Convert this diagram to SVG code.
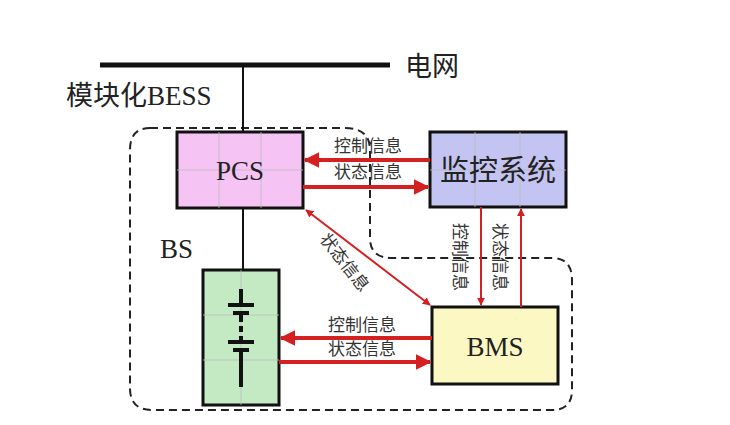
<svg xmlns="http://www.w3.org/2000/svg" width="730" height="425" viewBox="0 0 730 425">
<defs>
<marker id="ah" viewBox="0 0 10 10" refX="9" refY="5" markerWidth="4" markerHeight="4" orient="auto-start-reverse"><path d="M0,0L10,5L0,10z" fill="#d42020"/></marker>
</defs>
<style>
.box{stroke:#111;stroke-width:3}
.grid{stroke:#bbb;stroke-width:0.8;fill:none}
.ar{stroke:#d42020;stroke-width:4;fill:none;marker-end:url(#ah)}
.ar2{stroke:#d42020;stroke-width:2;fill:none;marker-end:url(#ah)}
.lbl{font-family:"Noto Sans CJK SC",sans-serif;font-size:17px;fill:#333}
.big{font-family:"Liberation Serif","Noto Sans CJK SC",serif;font-size:27px;fill:#222}
</style>
<rect width="730" height="425" fill="#fff"/>
<path d="M150,128 H345 Q370,128 370,150 V238 Q370,258 392,258 H552 Q572,258 572,280 V390 Q572,410 552,410 H152 Q130,410 130,388 V150 Q130,128 150,128 Z" fill="none" stroke="#222" stroke-width="2" stroke-dasharray="8,5"/>
<g id="bus"><line x1="100" y1="65" x2="390" y2="65" stroke="#111" stroke-width="5"/>
<line x1="243" y1="65" x2="243" y2="132" stroke="#111" stroke-width="2"/>
<line x1="243" y1="208" x2="243" y2="270" stroke="#111" stroke-width="2"/></g>
<text class="big" x="405" y="76">电网</text>
<text class="big" x="66" y="105">模块化BESS</text>
<text class="big" x="160" y="258">BS</text>
<g id="pcs"><rect class="box" x="177" y="132" width="126" height="76" fill="#f5c4f5"/>
<path class="grid" d="M219,132V208M261,132V208M177,170H303"/>
<text class="big" x="240" y="180" text-anchor="middle">PCS</text></g>
<g id="mon"><rect class="box" x="430" y="132" width="136" height="75" fill="#c4c4f2"/>
<path class="grid" d="M475,132V207M520,132V207M430,170H566"/>
<text x="498" y="181" text-anchor="middle" style="font-family:'Noto Sans CJK SC',sans-serif;font-size:29px;fill:#222">监控系统</text></g>
<g id="bs"><rect class="box" x="203" y="270" width="76" height="135" fill="#c4eac4"/>
<path class="grid" d="M241,270V405M203,315H279M203,360H279"/>
<g stroke="#111" stroke-width="4" fill="none"><path d="M241,289V305M228,305H254M233,313H249M241,313V322M241,326V332M241,336V342M228,342H254M233,350H249M241,350V387"/></g></g>
<g id="bms"><rect class="box" x="432" y="307" width="126" height="77" fill="#fbf8c4"/>
<text class="big" x="495" y="356" text-anchor="middle">BMS</text></g>
<g id="connectors">
<line class="ar" x1="430" y1="160" x2="305" y2="160"/>
<line class="ar" x1="303" y1="187" x2="428" y2="187"/>
<line class="ar2" x1="306" y1="210" x2="430" y2="305" style="marker-start:url(#ah)"/>
<line class="ar2" x1="481" y1="207" x2="481" y2="305"/>
<line class="ar2" x1="521" y1="307" x2="521" y2="209"/>
<line class="ar" x1="432" y1="338" x2="281" y2="338"/>
<line class="ar" x1="279" y1="362" x2="430" y2="362"/>
</g>
<text class="lbl" x="368" y="152" text-anchor="middle">控制信息</text>
<text class="lbl" x="368" y="178" text-anchor="middle">状态信息</text>
<text class="lbl" x="362" y="331" text-anchor="middle">控制信息</text>
<text class="lbl" x="362" y="355" text-anchor="middle">状态信息</text>
<text class="lbl" transform="translate(340,266) rotate(52)" text-anchor="middle">状态信息</text>
<text class="lbl" transform="translate(454,257) rotate(90)" text-anchor="middle">控制信息</text>
<text class="lbl" transform="translate(494,257) rotate(90)" text-anchor="middle">状态信息</text>
</svg>
